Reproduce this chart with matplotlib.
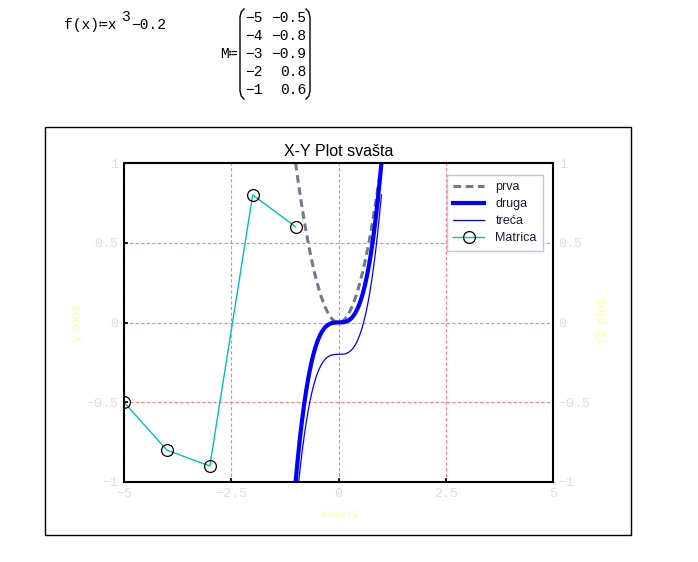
import matplotlib
matplotlib.use('Agg')
import matplotlib.pyplot as plt
from matplotlib.lines import Line2D
from matplotlib.patches import Rectangle
import numpy as np

W, H = 698, 562

# podaci
M_x = [-5, -4, -3, -2, -1]
M_y = [-0.5, -0.8, -0.9, 0.8, 0.6]
x_ticks = [-5, -2.5, 0, 2.5, 5]
x_tick_labels = ['\u22125', '\u22122.5', '0', '2.5', '5']
y_ticks = [-1, -0.5, 0, 0.5, 1]
y_tick_labels = ['\u22121', '\u22120.5', '0', '0.5', '1']
x = np.linspace(-1, 1, 201)

mono = ['Liberation Mono', 'DejaVu Sans Mono']
tick_gray = '#dedede'
label_yellow = '#ffffa8'

fig = plt.figure(figsize=(W / 100, H / 100), dpi=100)

def fx(px):
    return px / W

def fy(py):
    return 1 - py / H

# okvir oko grafika
fig.patches.append(Rectangle((fx(45), fy(535)), fx(631) - fx(45), fy(127) - fy(535),
                             transform=fig.transFigure, fill=False, ec='black', lw=1.0))

ax = fig.add_axes([fx(124), fy(482), fx(553) - fx(124), fy(163) - fy(482)])
ax.plot(x, x ** 2, color='#6e7b8b', lw=2.2, ls=(0, (2.5, 1.5)), label='prva')
ax.plot(x, x ** 3, color='#0000ff', lw=3.0, label='druga')
ax.plot(x, x ** 3 - 0.2, color='#0000ff', lw=0.9, label='treća')
ax.plot(M_x, M_y, color='#00bfbf', lw=1.0, marker='o', ms=8.5, mfc='none',
        mec='black', mew=0.9, label='Matrica')

ax.set_xlim(-5, 5)
ax.set_ylim(-1, 1)
ax.set_xticks(x_ticks)
ax.set_xticklabels(x_tick_labels, family=mono, fontsize=9.5, color=tick_gray)
ax.set_yticks(y_ticks)
ax.set_yticklabels(y_tick_labels, family=mono, fontsize=9.5, color=tick_gray)
ax.tick_params(direction='in', length=3, width=1.2, color='black', pad=4,
               labelright=True, right=False, top=False)
for lab in ax.get_yticklabels():
    lab.set_fontfamily(mono)
ax.grid(True, color='#ff7f7f', ls=(0, (3, 2)), lw=0.8)
for s in ax.spines.values():
    s.set_linewidth(1.5)

ax.set_title('X-Y Plot svašta', fontsize=11.5, family='Liberation Sans', pad=5)
fig.text(fx(339), fy(515), 'x-axis', fontsize=9.5, color=label_yellow,
         ha='center', va='center')
fig.text(fx(76), fy(322), 'y-axis', rotation=90, fontsize=9.5, color=label_yellow,
         ha='center', va='center')
fig.text(fx(603), fy(322), 'Y2 plot', rotation=90, fontsize=9.5, color=label_yellow,
         ha='center', va='center')

leg = ax.legend(loc='upper right', bbox_to_anchor=(1 - 10 / 429, 1 - 12 / 319),
                borderaxespad=0, prop={'family': 'Liberation Sans', 'size': 9},
                frameon=True, fancybox=False,
                edgecolor='#c0c0ff', framealpha=1, handlelength=2.5,
                handletextpad=0.9, labelspacing=0.4, borderpad=0.5)
leg.get_frame().set_linewidth(1.0)
for t in leg.get_texts():
    t.set_color('#1a1a3a')

# Mathcad definicije na vrhu
fs = 10.5
fig.text(fx(64), fy(25), 'f(x)\u2254x', family=mono, fontsize=fs, va='center')
fig.text(fx(121), fy(17), '3', family=mono, fontsize=fs, va='center')
fig.text(fx(131), fy(25), '\u22120.2', family=mono, fontsize=fs, va='center')

fig.text(fx(238), fy(54), 'M\u2254', family=mono, fontsize=fs, va='center', ha='right')
rows_a = ['\u22125', '\u22124', '\u22123', '\u22122', '\u22121']
rows_b = ['\u22120.5', '\u22120.8', '\u22120.9', '0.8', '0.6']
row_y = [18, 36, 54, 72, 90]
for a, b, ry in zip(rows_a, rows_b, row_y):
    fig.text(fx(263), fy(ry), a, family=mono, fontsize=fs, va='center', ha='right')
    fig.text(fx(306), fy(ry), b, family=mono, fontsize=fs, va='center', ha='right')

def paren(x0, y0, y1, side):
    d = 4 * side
    xs = [x0 + d, x0 + d * 0.3, x0, x0, x0 + d * 0.3, x0 + d]
    ys = [y0, y0 + 3, y0 + 8, y1 - 8, y1 - 3, y1]
    fig.lines.append(Line2D([fx(v) for v in xs], [fy(v) for v in ys],
                            transform=fig.transFigure, color='black', lw=1.0))

paren(240, 9, 99, 1)
paren(310, 9, 99, -1)

fig.savefig('out.png', dpi=100)
